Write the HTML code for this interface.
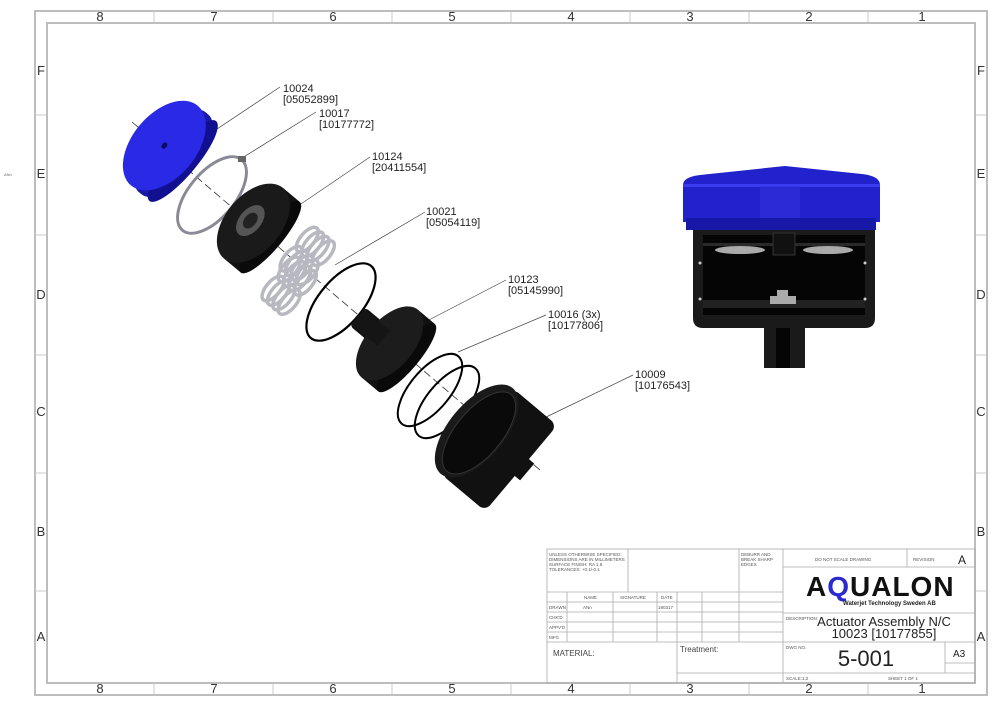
<!DOCTYPE html>
<html><head><meta charset="utf-8"><style>
html,body{margin:0;padding:0;background:#fff}
svg{display:block}
text{font-family:"Liberation Sans",sans-serif}
</style></head><body>
<svg width="1000" height="707" viewBox="0 0 1000 707" xmlns="http://www.w3.org/2000/svg">
<rect width="1000" height="707" fill="#fff"/>
<g fill="none" stroke="#bdbdbd" stroke-width="2">
<rect x="35" y="11" width="952" height="684"/>
<rect x="47" y="23" width="928" height="660"/>
</g>
<g stroke="#c8c8c8" stroke-width="1">
<line x1="154" y1="11" x2="154" y2="23"/><line x1="273" y1="11" x2="273" y2="23"/><line x1="392" y1="11" x2="392" y2="23"/><line x1="511" y1="11" x2="511" y2="23"/><line x1="630" y1="11" x2="630" y2="23"/><line x1="749" y1="11" x2="749" y2="23"/><line x1="868" y1="11" x2="868" y2="23"/>
<line x1="154" y1="683" x2="154" y2="695"/><line x1="273" y1="683" x2="273" y2="695"/><line x1="392" y1="683" x2="392" y2="695"/><line x1="511" y1="683" x2="511" y2="695"/><line x1="630" y1="683" x2="630" y2="695"/><line x1="749" y1="683" x2="749" y2="695"/><line x1="868" y1="683" x2="868" y2="695"/>
<line x1="35" y1="115" x2="47" y2="115"/><line x1="35" y1="235" x2="47" y2="235"/><line x1="35" y1="355" x2="47" y2="355"/><line x1="35" y1="473" x2="47" y2="473"/><line x1="35" y1="591" x2="47" y2="591"/>
<line x1="975" y1="115" x2="987" y2="115"/><line x1="975" y1="235" x2="987" y2="235"/><line x1="975" y1="355" x2="987" y2="355"/><line x1="975" y1="473" x2="987" y2="473"/><line x1="975" y1="591" x2="987" y2="591"/>
</g>
<g font-size="13" fill="#333" text-anchor="middle">
<text x="100" y="21">8</text><text x="214" y="21">7</text><text x="333" y="21">6</text><text x="452" y="21">5</text><text x="571" y="21">4</text><text x="690" y="21">3</text><text x="809" y="21">2</text><text x="922" y="21">1</text>
<text x="100" y="693">8</text><text x="214" y="693">7</text><text x="333" y="693">6</text><text x="452" y="693">5</text><text x="571" y="693">4</text><text x="690" y="693">3</text><text x="809" y="693">2</text><text x="922" y="693">1</text>
<text x="41" y="75">F</text><text x="41" y="178">E</text><text x="41" y="299">D</text><text x="41" y="416">C</text><text x="41" y="536">B</text><text x="41" y="641">A</text>
<text x="981" y="75">F</text><text x="981" y="178">E</text><text x="981" y="299">D</text><text x="981" y="416">C</text><text x="981" y="536">B</text><text x="981" y="641">A</text>
</g>
<text x="4" y="176" font-size="4" fill="#666">ANn</text>

<g stroke="#333" stroke-width="0.8" stroke-dasharray="8,4"><line x1="132" y1="122" x2="540" y2="470"/></g>

<g stroke="#444" stroke-width="0.7" fill="none">
<line x1="280" y1="87" x2="208" y2="135"/>
<line x1="316" y1="112" x2="242" y2="158"/>
<line x1="370" y1="157" x2="295" y2="208"/>
<line x1="425" y1="212" x2="335" y2="265"/>
<line x1="506" y1="280" x2="425" y2="322"/>
<line x1="546" y1="315" x2="458" y2="352"/>
<line x1="633" y1="375" x2="540" y2="420"/>
</g>
<g font-size="11" fill="#222">
<text x="283" y="92">10024</text><text x="283" y="103">[05052899]</text>
<text x="319" y="117">10017</text><text x="319" y="128">[10177772]</text>
<text x="372" y="160">10124</text><text x="372" y="171">[20411554]</text>
<text x="426" y="215">10021</text><text x="426" y="226">[05054119]</text>
<text x="508" y="283">10123</text><text x="508" y="294">[05145990]</text>
<text x="548" y="318">10016 (3x)</text><text x="548" y="329">[10177806]</text>
<text x="635" y="378">10009</text><text x="635" y="389">[10176543]</text>
</g>

<!-- blue cap -->
<g transform="rotate(40 172 152)">
<rect x="162" y="100" width="24" height="104" fill="#1a1aa8" rx="10"/>
<ellipse cx="186" cy="152" rx="14" ry="52" fill="#101090"/>
<ellipse cx="162" cy="152" rx="32" ry="52" fill="#2a2ae6"/>
<ellipse cx="162" cy="152" rx="2.5" ry="3.5" fill="#0a0a60"/>
</g>
<!-- circlip -->
<ellipse cx="212" cy="195" rx="23" ry="46" transform="rotate(40 212 195)" fill="none" stroke="#8a8a96" stroke-width="3"/>
<rect x="238" y="156" width="8" height="6" fill="#666"/>
<!-- 10124 black disk -->
<g transform="rotate(40 258 227)">
<rect x="252" y="181" width="22" height="92" fill="#111"/>
<ellipse cx="274" cy="227" rx="12" ry="46" fill="#0a0a0a"/>
<ellipse cx="252" cy="227" rx="28" ry="46" fill="#1a1a1a"/>
<ellipse cx="248" cy="227" rx="11" ry="18" fill="#555"/>
<ellipse cx="248" cy="227" rx="6" ry="9" fill="#222"/>
</g>
<!-- springs -->
<g fill="none" stroke="#b8b8c0" stroke-width="3.5">
<g transform="rotate(40 310 255)"><ellipse cx="298" cy="245" rx="7" ry="15"/><ellipse cx="305" cy="245" rx="7" ry="15"/><ellipse cx="312" cy="245" rx="7" ry="15"/><ellipse cx="319" cy="245" rx="7" ry="15"/>
<ellipse cx="298" cy="270" rx="7" ry="15"/><ellipse cx="305" cy="270" rx="7" ry="15"/><ellipse cx="312" cy="270" rx="7" ry="15"/><ellipse cx="319" cy="270" rx="7" ry="15"/></g>
<g transform="rotate(40 290 287)"><ellipse cx="278" cy="274" rx="7" ry="15"/><ellipse cx="285" cy="274" rx="7" ry="15"/><ellipse cx="292" cy="274" rx="7" ry="15"/><ellipse cx="299" cy="274" rx="7" ry="15"/>
<ellipse cx="278" cy="299" rx="7" ry="15"/><ellipse cx="285" cy="299" rx="7" ry="15"/><ellipse cx="292" cy="299" rx="7" ry="15"/><ellipse cx="299" cy="299" rx="7" ry="15"/></g>
</g>
<!-- o-ring 1 -->
<ellipse cx="341" cy="302" rx="22" ry="47" transform="rotate(40 341 302)" fill="none" stroke="#000" stroke-width="2.2"/>
<!-- 10123 -->
<g transform="rotate(40 395 348)">
<rect x="346" y="336" width="34" height="24" fill="#111" rx="4"/>
<rect x="388" y="304" width="22" height="88" fill="#111"/>
<ellipse cx="410" cy="348" rx="12" ry="44" fill="#0a0a0a"/>
<ellipse cx="388" cy="348" rx="24" ry="44" fill="#1c1c1c"/>
<rect x="346" y="338" width="34" height="20" fill="#151515"/>
</g>
<!-- o-rings 2,3 -->
<ellipse cx="430" cy="390" rx="20" ry="44" transform="rotate(40 430 390)" fill="none" stroke="#000" stroke-width="2"/>
<ellipse cx="447" cy="402" rx="20" ry="44" transform="rotate(40 447 402)" fill="none" stroke="#000" stroke-width="2"/>
<!-- 10009 housing -->
<g transform="rotate(40 495 445)">
<rect x="472" y="390" width="58" height="112" fill="#111" rx="8"/>
<rect x="528" y="434" width="9" height="22" fill="#111"/>
<ellipse cx="472" cy="446" rx="28" ry="56" fill="#1a1a1a"/>
<ellipse cx="475" cy="446" rx="23" ry="50" fill="#0a0a0a" stroke="#333" stroke-width="1"/>
</g>

<!-- right section view -->
<path d="M693 230 H875 V318 Q875 328 865 328 H805 V368 H764 V328 H703 Q693 328 693 318 Z" fill="#1a1a1a"/>
<rect x="703" y="235" width="162" height="80" fill="#050505"/>
<rect x="703" y="243" width="162" height="3" fill="#2a2a2a"/>
<rect x="703" y="300" width="162" height="8" fill="#222"/>
<rect x="773" y="233" width="22" height="22" fill="#111" stroke="#333"/>
<ellipse cx="740" cy="250" rx="25" ry="4" fill="#aaa"/>
<ellipse cx="828" cy="250" rx="25" ry="4" fill="#aaa"/>
<path d="M777 290 H788 V296 H796 V304 H770 V296 H777Z" fill="#aaa"/>
<rect x="776" y="328" width="14" height="40" fill="#050505"/>
<path d="M683 185 Q683 177 700 175 L785 166 L862 174 Q880 176 880 185 V222 H683Z" fill="#2222cc"/>
<rect x="686" y="218" width="190" height="12" fill="#1818a8"/>
<rect x="683" y="184" width="197" height="3" fill="#3a3aee"/>
<rect x="760" y="186" width="40" height="32" fill="#3434e0" opacity="0.5"/>
<g fill="#ccc"><circle cx="700" cy="263" r="1.5"/><circle cx="865" cy="263" r="1.5"/><circle cx="700" cy="299" r="1.5"/><circle cx="865" cy="299" r="1.5"/></g>

<!-- title block -->
<g fill="none" stroke="#aaa" stroke-width="0.8">
<rect x="547" y="549" width="428" height="134"/>
<line x1="628" y1="549" x2="628" y2="592"/>
<line x1="739" y1="549" x2="739" y2="642"/>
<line x1="783" y1="549" x2="783" y2="683"/>
<line x1="907" y1="549" x2="907" y2="567"/>
<line x1="783" y1="567" x2="975" y2="567"/>
<line x1="547" y1="592" x2="783" y2="592"/>
<line x1="547" y1="602" x2="783" y2="602"/>
<line x1="547" y1="612" x2="783" y2="612"/>
<line x1="547" y1="622" x2="783" y2="622"/>
<line x1="547" y1="632" x2="783" y2="632"/>
<line x1="547" y1="642" x2="975" y2="642"/>
<line x1="783" y1="613" x2="975" y2="613"/>
<line x1="567" y1="592" x2="567" y2="642"/>
<line x1="613" y1="592" x2="613" y2="642"/>
<line x1="657" y1="592" x2="657" y2="642"/>
<line x1="677" y1="592" x2="677" y2="683"/>
<line x1="702" y1="592" x2="702" y2="642"/>
<line x1="677" y1="673" x2="975" y2="673"/>
<line x1="945" y1="642" x2="945" y2="673"/>
<line x1="945" y1="663" x2="975" y2="663"/>
</g>
<g font-size="4.5" fill="#555">
<text x="549" y="556">UNLESS OTHERWISE SPECIFIED:</text>
<text x="549" y="561">DIMENSIONS ARE IN MILLIMETERS</text>
<text x="549" y="566">SURFACE FINISH: RA 1.6</text>
<text x="549" y="571">TOLERANCES: +0.1/-0.1</text>
<text x="741" y="556">DEBURR AND</text><text x="741" y="561">BREAK SHARP</text><text x="741" y="566">EDGES</text>
<text x="584" y="599">NAME</text><text x="620" y="599">SIGNATURE</text><text x="661" y="599">DATE</text>
<text x="549" y="609">DRAWN</text><text x="583" y="609">ANn</text><text x="658" y="609">190317</text>
<text x="549" y="619">CHK'D</text><text x="549" y="629">APPV'D</text><text x="549" y="639">MFG</text>
<text x="815" y="561">DO NOT SCALE DRAWING</text>
<text x="913" y="561">REVISION</text>
<text x="786" y="620">DESCRIPTION:</text>
<text x="786" y="649">DWG NO.</text>
<text x="786" y="680">SCALE:1:2</text>
<text x="888" y="680">SHEET 1 OF 1</text>
</g>
<text x="958" y="564" font-size="12" fill="#222">A</text>
<text x="553" y="656" font-size="8" fill="#444">MATERIAL:</text>
<text x="680" y="652" font-size="8" fill="#444">Treatment:</text>
<text x="806" y="596" font-size="28" font-weight="bold" fill="#111" letter-spacing="1">A<tspan fill="#2a2ad0">Q</tspan>UALON</text>
<text x="843" y="605" font-size="6" font-weight="bold" fill="#222">Waterjet Technology Sweden AB</text>
<text x="884" y="626" font-size="13" fill="#222" text-anchor="middle">Actuator Assembly N/C</text>
<text x="884" y="638" font-size="13" fill="#222" text-anchor="middle">10023 [10177855]</text>
<text x="866" y="666" font-size="22" fill="#222" text-anchor="middle">5-001</text>
<text x="953" y="657" font-size="10" fill="#222">A3</text>
</svg>
</body></html>
